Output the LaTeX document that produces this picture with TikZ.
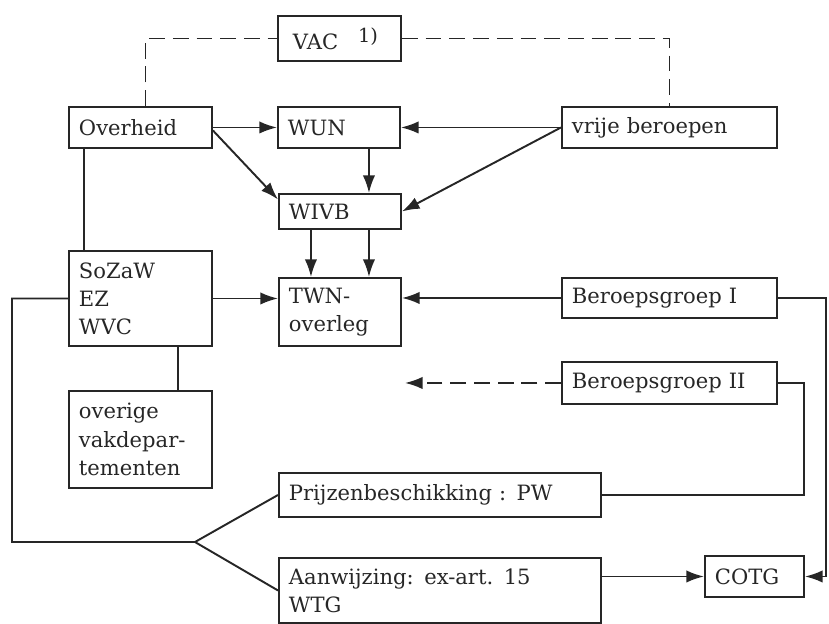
\documentclass[tikz,border=0pt]{standalone}
\usepackage{fontspec}
\setmainfont{DejaVu Serif}
\usetikzlibrary{arrows.meta}

\tikzset{
  blok/.style={draw, anchor=north west, align=left, inner xsep=0.2cm, inner ysep=0.1cm,
    font=\fontsize{12}{16}\selectfont},
  pijl/.style={-{Latex[length=10pt,width=7pt]}},
  streep/.style={dash pattern=on 9pt off 4.5pt},
}

\begin{document}
\begin{tikzpicture}[line width=1.1pt, color=black!85]
  \useasboundingbox (0,0) rectangle (16.58,-12.46);
  % boxes
  \node[blok, text width=2.06cm, minimum height=0.9cm] (vac) at (5.54,-0.30) {\hspace{0.1cm}VAC\hspace{0.4cm}\raisebox{4pt}{\fontsize{11}{12}\selectfont 1)}};
  \node[blok, text width=2.46cm, minimum height=0.82cm] (ovh) at (1.36,-2.12) {Overheid};
  \node[blok, text width=2.04cm, minimum height=0.82cm] (wun) at (5.54,-2.12) {WUN};
  \node[blok, text width=3.90cm, minimum height=0.82cm] (vrij) at (11.22,-2.12) {vrije beroepen};
  \node[blok, text width=2.04cm, minimum height=0.70cm] (wivb) at (5.56,-3.86) {WIVB};
  \node[blok, text width=2.46cm, minimum height=1.90cm] (sza) at (1.36,-5.00) {SoZaW\\EZ\\WVC};
  \node[blok, text width=2.04cm, minimum height=1.36cm] (twn) at (5.56,-5.54) {TWN-\\overleg};
  \node[blok, text width=3.90cm, minimum height=0.80cm] (bg1) at (11.22,-5.54) {Beroepsgroep I};
  \node[blok, text width=3.90cm, minimum height=0.84cm] (bg2) at (11.22,-7.22) {Beroepsgroep II};
  \node[blok, text width=2.46cm, minimum height=1.94cm] (ovr) at (1.36,-7.80) {overige\\vakdepar-\\tementen};
  \node[blok, text width=6.04cm, minimum height=0.88cm] (prijs) at (5.56,-9.44) {Prijzenbeschikking : PW};
  \node[blok, text width=6.04cm, minimum height=1.30cm] (aanw) at (5.56,-11.14) {Aanwijzing: ex-art. 15\\WTG};
  \node[blok, text width=1.58cm, minimum height=0.82cm] (cotg) at (14.08,-11.10) {COTG};
  % free ends
  \coordinate (links) at (0.24,0);
  \coordinate (rand) at (16.52,0);
  \coordinate (rand2) at (16.08,0);
  \coordinate (vork) at (3.90,-10.84);
  % connectors
  \draw[streep] ([xshift=0.1cm]ovh.north) |- (vac.west);
  \draw[streep] (vac.east) -| (vrij.north);
  \draw[pijl] (ovh.east) -- (wun.west);
  \draw[pijl] ([yshift=-0.06cm]ovh.east) -- ([yshift=0.24cm]wivb.west);
  \draw[pijl] (vrij.west) -- (wun.east);
  \draw[pijl] (vrij.west) -- (wivb.east);
  \draw[pijl] ([xshift=0.6cm]wun.south) -- ([xshift=0.6cm]wun.south |- wivb.north);
  \foreach \dx in {-0.58,0.58}
    \draw[pijl] ([xshift=\dx cm]wivb.south) -- ([xshift=\dx cm]twn.north);
  \draw ([xshift=0.32cm]ovh.south west) -- ([xshift=0.32cm]sza.north west);
  \draw ([xshift=2.2cm]sza.south west) -- ([xshift=2.2cm]ovr.north west);
  \draw[pijl] (sza.east) -- (sza.east -| twn.west);
  \draw[pijl] (bg1.west) -- (bg1.west -| twn.east);
  \draw[pijl] (bg1.east) -- (bg1.east -| rand) |- (cotg.east);
  \draw[pijl, streep] (bg2.west) -- ([xshift=0.06cm]bg2.west -| twn.east);
  \draw (bg2.east) -- (bg2.east -| rand2) |- (prijs.east);
  \draw (sza.west) -- (sza.west -| links) |- (vork) -- (prijs.west);
  \draw (vork) -- (aanw.west);
  \draw[pijl] (cotg.west -| aanw.east) -- (cotg.west);
\end{tikzpicture}
\end{document}
